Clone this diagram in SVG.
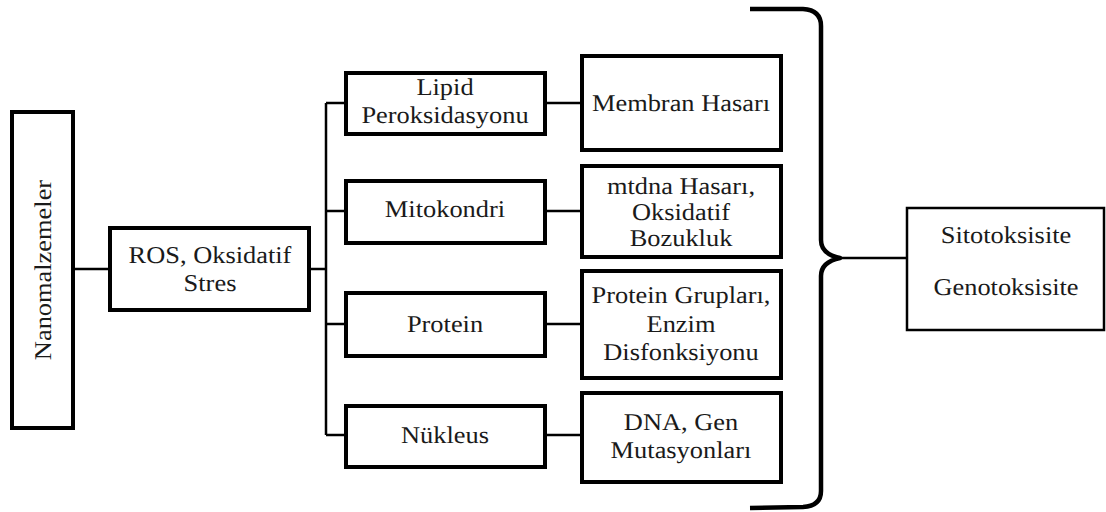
<svg xmlns="http://www.w3.org/2000/svg" width="1106" height="512" viewBox="0 0 1106 512">
<style>
.box{fill:#fff;stroke:#000;stroke-width:4}
.box2{fill:#fff;stroke:#000;stroke-width:2.5}
.ln{fill:none;stroke:#000;stroke-width:2.5}
.br{fill:none;stroke:#000;stroke-width:4.5;stroke-linejoin:round}
text{font-family:'Liberation Serif','Times New Roman',serif;font-size:24px;fill:#1a1a1a;text-anchor:middle;text-rendering:geometricPrecision}
</style>
<g id="connectors">
<line class="ln" x1="73" y1="269" x2="110" y2="269"/>
<line class="ln" x1="309" y1="269" x2="326" y2="269"/>
<line class="ln" x1="326" y1="103" x2="326" y2="435"/>
<line class="ln" x1="326" y1="103" x2="346" y2="103"/>
<line class="ln" x1="326" y1="211" x2="346" y2="211"/>
<line class="ln" x1="326" y1="324" x2="346" y2="324"/>
<line class="ln" x1="326" y1="435" x2="346" y2="435"/>
<line class="ln" x1="545" y1="103" x2="582" y2="103"/>
<line class="ln" x1="545" y1="211" x2="582" y2="211"/>
<line class="ln" x1="545" y1="324" x2="582" y2="324"/>
<line class="ln" x1="545" y1="435" x2="582" y2="435"/>
<path class="br" d="M750 9 L803 9 Q821 10 821 26 L821 240 Q821 254 840 258 Q821 262 821 276 L821 491 Q821 506 803 507 L750 508"/>
<line class="ln" x1="838" y1="258" x2="907" y2="258"/>
</g>
<g id="n-nano">
<rect class="box" x="12" y="112" width="61" height="316"/>
<g transform="translate(51 270) rotate(-90) scale(1.1 1)">
<text x="0" y="0">Nanomalzemeler</text>
</g>
</g>
<g id="n-ros">
<rect class="box" x="110" y="228" width="199" height="82"/>
<g transform="translate(210 0) scale(1.1 1)">
<text x="0" y="263">ROS, Oksidatif</text>
<text x="0" y="291">Stres</text>
</g>
</g>
<g id="n-lipid">
<rect class="box" x="346" y="73" width="199" height="61"/>
<g transform="translate(445 0) scale(1.1 1)">
<text x="0" y="95">Lipid</text>
<text x="0" y="123">Peroksidasyonu</text>
</g>
</g>
<g id="n-mito">
<rect class="box" x="346" y="181" width="199" height="62"/>
<g transform="translate(445 0) scale(1.1 1)">
<text x="0" y="217">Mitokondri</text>
</g>
</g>
<g id="n-protein">
<rect class="box" x="346" y="293" width="199" height="63"/>
<g transform="translate(445 0) scale(1.1 1)">
<text x="0" y="332">Protein</text>
</g>
</g>
<g id="n-nukleus">
<rect class="box" x="346" y="406" width="199" height="61"/>
<g transform="translate(445 0) scale(1.1 1)">
<text x="0" y="443">Nükleus</text>
</g>
</g>
<g id="n-membran">
<rect class="box" x="582" y="56" width="199" height="94"/>
<g transform="translate(681 0) scale(1.1 1)">
<text x="0" y="111">Membran Hasarı</text>
</g>
</g>
<g id="n-mtdna">
<rect class="box" x="582" y="166" width="199" height="91"/>
<g transform="translate(681 0) scale(1.1 1)">
<text x="0" y="194">mtdna Hasarı,</text>
<text x="0" y="220">Oksidatif</text>
<text x="0" y="246">Bozukluk</text>
</g>
</g>
<g id="n-grup">
<rect class="box" x="582" y="271" width="199" height="107"/>
<g transform="translate(681 0) scale(1.1 1)">
<text x="0" y="303">Protein Grupları,</text>
<text x="0" y="332">Enzim</text>
<text x="0" y="360">Disfonksiyonu</text>
</g>
</g>
<g id="n-dna">
<rect class="box" x="582" y="393" width="199" height="89"/>
<g transform="translate(681 0) scale(1.1 1)">
<text x="0" y="430">DNA, Gen</text>
<text x="0" y="458">Mutasyonları</text>
</g>
</g>
<g id="n-sito">
<rect class="box2" x="907" y="208" width="197" height="122"/>
<g transform="translate(1006 0) scale(1.1 1)">
<text x="0" y="243">Sitotoksisite</text>
<text x="0" y="295">Genotoksisite</text>
</g>
</g>
</svg>
